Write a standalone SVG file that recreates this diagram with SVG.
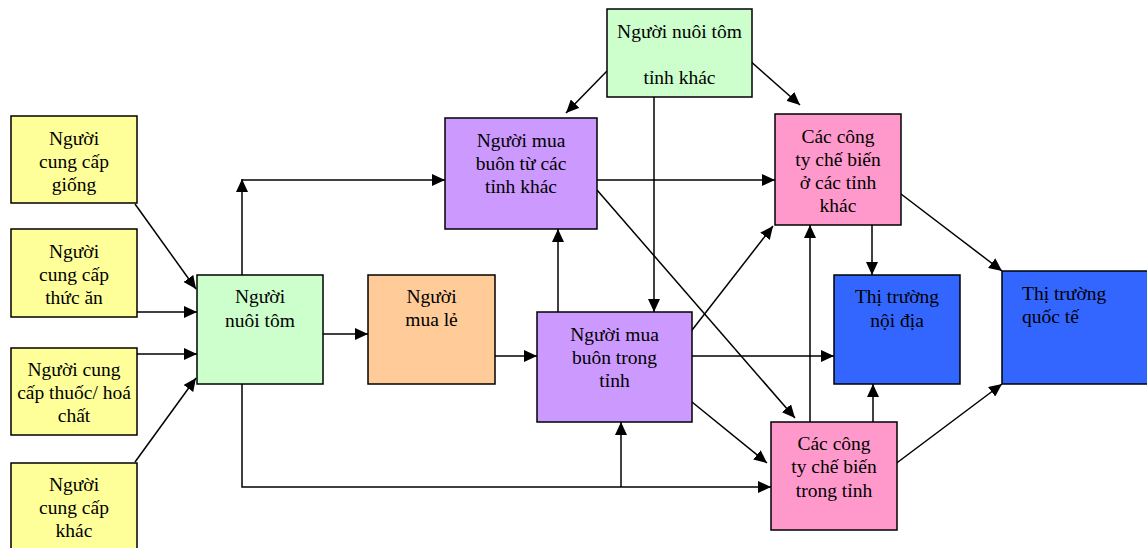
<svg xmlns="http://www.w3.org/2000/svg" width="1147" height="548" viewBox="0 0 1147 548">
<style>
.box{stroke:#000;stroke-width:1.5}
.y{fill:#FFFF99}.g{fill:#CCFFCC}.o{fill:#FFCC99}.p{fill:#CC99FF}.k{fill:#FF99CC}.b{fill:#3366FF}
text{font-family:'Liberation Serif','Times New Roman','DejaVu Serif',serif;font-size:19.5px;fill:#000;text-anchor:middle}
.l{text-anchor:start}
.c line,.c polyline{stroke:#000;stroke-width:1.5;fill:none}
.a{marker-end:url(#ah)}
</style>
<defs>
<marker id="ah" viewBox="0 0 13 12" refX="13" refY="6" markerWidth="13" markerHeight="12" markerUnits="userSpaceOnUse" orient="auto">
<path d="M0,0 L13,6 L0,12 Z" fill="#000"/>
</marker>
</defs>
<rect width="1147" height="548" fill="#fff"/>
<g class="c">
<line class="a" x1="135" y1="204" x2="196" y2="289"/>
<line class="a" x1="135" y1="312" x2="197" y2="312"/>
<line class="a" x1="135" y1="354" x2="197" y2="354"/>
<line class="a" x1="135" y1="462" x2="196" y2="378"/>
<line class="a" x1="242" y1="275" x2="242" y2="179"/>
<line class="a" x1="242" y1="180" x2="445" y2="180"/>
<line class="a" x1="323" y1="334" x2="368" y2="334"/>
<line class="a" x1="495" y1="356" x2="537" y2="356"/>
<polyline class="a" points="242,384 242,487 771,487"/>
<line class="a" x1="621" y1="487" x2="621" y2="422"/>
<line class="a" x1="607" y1="71" x2="566" y2="113"/>
<line class="a" x1="748" y1="59" x2="800" y2="105"/>
<line class="a" x1="654" y1="97" x2="654" y2="312"/>
<line class="a" x1="597" y1="180" x2="775" y2="180"/>
<line class="a" x1="597" y1="190" x2="795" y2="418"/>
<line class="a" x1="558" y1="312" x2="558" y2="229"/>
<line class="a" x1="689" y1="334" x2="773" y2="226"/>
<line class="a" x1="683" y1="356" x2="834" y2="356"/>
<line class="a" x1="692" y1="402" x2="767" y2="463"/>
<line class="a" x1="810" y1="422" x2="810" y2="225"/>
<line class="a" x1="872" y1="225" x2="872" y2="275"/>
<line class="a" x1="873" y1="422" x2="873" y2="384"/>
<line class="a" x1="901" y1="194" x2="1002" y2="271"/>
<line class="a" x1="894" y1="465" x2="1002" y2="384"/>
</g>
<g font-family="Liberation Serif, serif">
<g id="ncc-giong"><rect class="box y" x="11" y="116" width="126" height="87"/><text x="74" y="145">Người</text><text x="74" y="168">cung cấp</text><text x="74" y="191">giống</text></g>
<g id="ncc-thucan"><rect class="box y" x="11" y="229" width="126" height="88"/><text x="74" y="258">Người</text><text x="74" y="281">cung cấp</text><text x="74" y="304">thức ăn</text></g>
<g id="ncc-thuoc"><rect class="box y" x="11" y="348" width="126" height="87"/><text x="74" y="376">Người cung</text><text x="74" y="399">cấp thuốc/ hoá</text><text x="74" y="422">chất</text></g>
<g id="ncc-khac"><rect class="box y" x="11" y="463" width="126" height="100"/><text x="74" y="491">Người</text><text x="74" y="514">cung cấp</text><text x="74" y="537">khác</text></g>
<g id="nuoi-tom"><rect class="box g" x="197" y="275" width="126" height="109"/><text x="260" y="303">Người</text><text x="260" y="327">nuôi tôm</text></g>
<g id="nuoi-tom-tinh-khac"><rect class="box g" x="607" y="9" width="145" height="88"/><text x="679.5" y="38">Người nuôi tôm</text><text x="679.5" y="84">tỉnh khác</text></g>
<g id="mua-buon-tinh-khac"><rect class="box p" x="445" y="118" width="152" height="111"/><text x="521" y="147">Người mua</text><text x="521" y="170">buôn từ các</text><text x="521" y="193">tỉnh khác</text></g>
<g id="mua-le"><rect class="box o" x="368" y="275" width="127" height="109"/><text x="431.5" y="303">Người</text><text x="431.5" y="326">mua lẻ</text></g>
<g id="mua-buon-trong-tinh"><rect class="box p" x="537" y="312" width="155" height="110"/><text x="614.5" y="341">Người mua</text><text x="614.5" y="364">buôn trong</text><text x="614.5" y="387">tỉnh</text></g>
<g id="cb-tinh-khac"><rect class="box k" x="775" y="114" width="126" height="111"/><text x="838" y="143">Các công</text><text x="838" y="166">ty chế biến</text><text x="838" y="189">ở các tỉnh</text><text x="838" y="212">khác</text></g>
<g id="noi-dia"><rect class="box b" x="834" y="275" width="126" height="109"/><text x="897" y="303">Thị trường</text><text x="897" y="327">nội địa</text></g>
<g id="quoc-te"><rect class="box b" x="1002" y="271" width="150" height="113"/><text class="l" x="1022" y="300">Thị trường</text><text class="l" x="1022" y="323">quốc tế</text></g>
<g id="cb-trong-tinh"><rect class="box k" x="771" y="422" width="126" height="108"/><text x="834" y="450">Các công</text><text x="834" y="473">ty chế biến</text><text x="834" y="497">trong tỉnh</text></g>
</g>
</svg>
